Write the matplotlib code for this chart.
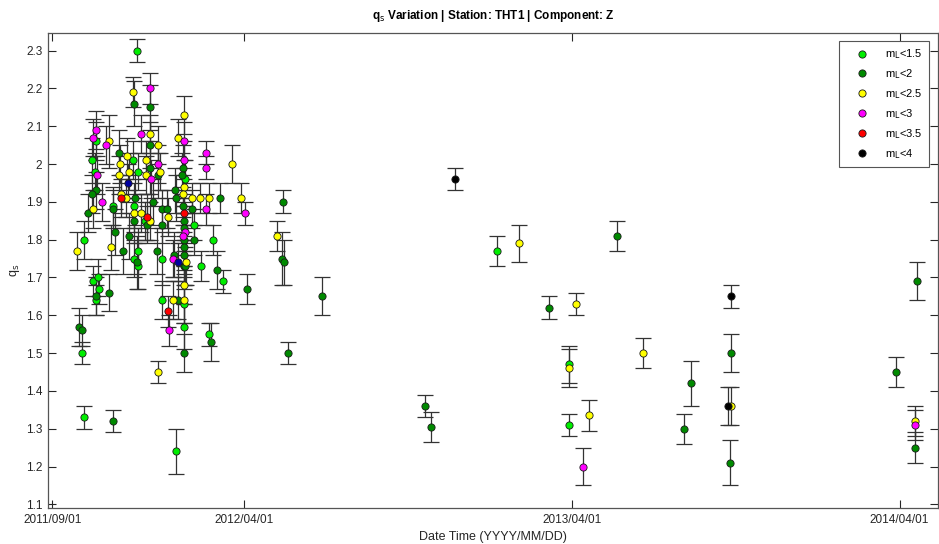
import numpy as np
import matplotlib
matplotlib.use("Agg")
import matplotlib.pyplot as plt
import matplotlib.dates as mdates
from matplotlib.lines import Line2D
from matplotlib.ticker import FuncFormatter

plt.rcParams["font.family"] = ["Liberation Sans", "DejaVu Sans"]

# Event dates are stored as day offsets from the start of the record
START = np.datetime64("2011-09-01")

# m_L < 1.5
ml15_day = [94, 44, 90, 49, 95, 47, 147, 67, 91, 103, 158, 35, 179, 95, 122, 91, 95,
            165, 190, 45, 51, 52, 49, 122, 146, 146, 174, 33, 35, 137, 495, 575, 575]
ml15_q = [2.30, 2.01, 2.01, 2.06, 1.98, 1.98, 1.96, 1.89, 1.89, 1.85, 1.84, 1.80, 1.80,
          1.77, 1.75, 1.75, 1.73, 1.73, 1.69, 1.69, 1.70, 1.67, 1.64, 1.64, 1.63, 1.57,
          1.55, 1.50, 1.33, 1.24, 1.77, 1.47, 1.31]
ml15_err = [0.03, 0.06, 0.05, 0.05, 0.05, 0.05, 0.05, 0.05, 0.06, 0.05, 0.04, 0.05, 0.04,
            0.06, 0.07, 0.05, 0.06, 0.04, 0.03, 0.04, 0.05, 0.04, 0.04, 0.05, 0.05, 0.06,
            0.03, 0.03, 0.03, 0.06, 0.04, 0.05, 0.03]

# m_L < 2
ml2_day = [91, 109, 109, 74, 109, 145, 118, 144, 48, 44, 136, 137, 92, 187, 112, 67, 39,
           122, 128, 145, 155, 105, 122, 91, 146, 146, 146, 146, 146, 146, 70, 85, 79, 116,
           94, 158, 183, 217, 135, 147, 49, 63, 140, 146, 176, 30, 33, 67, 257, 255, 258,
           262, 300, 415, 421, 553, 628, 711, 703, 755, 754, 939, 963, 960]
ml2_q = [2.16, 2.15, 2.05, 2.03, 1.99, 1.99, 1.97, 1.97, 1.93, 1.92, 1.93, 1.91, 1.91, 1.91,
         1.90, 1.88, 1.87, 1.88, 1.88, 1.89, 1.88, 1.84, 1.84, 1.85, 1.85, 1.83, 1.80, 1.78,
         1.76, 1.73, 1.82, 1.81, 1.77, 1.77, 1.74, 1.80, 1.72, 1.67, 1.76, 1.73, 1.65, 1.66,
         1.64, 1.50, 1.53, 1.57, 1.56, 1.32, 1.90, 1.75, 1.74, 1.50, 1.65, 1.36, 1.305, 1.62,
         1.81, 1.42, 1.30, 1.50, 1.21, 1.45, 1.69, 1.25]
ml2_err = [0.06, 0.06, 0.06, 0.06, 0.07, 0.06, 0.06, 0.06, 0.05, 0.05, 0.06, 0.06, 0.07, 0.04,
           0.06, 0.05, 0.05, 0.05, 0.05, 0.05, 0.05, 0.05, 0.05, 0.06, 0.05, 0.06, 0.07, 0.06,
           0.05, 0.06, 0.06, 0.06, 0.06, 0.06, 0.07, 0.04, 0.05, 0.04, 0.06, 0.05, 0.05, 0.05,
           0.05, 0.05, 0.05, 0.05, 0.04, 0.03, 0.03, 0.07, 0.06, 0.03, 0.05, 0.03, 0.04, 0.03,
           0.04, 0.06, 0.04, 0.05, 0.06, 0.04, 0.05, 0.04]

# m_L < 2.5
ml25_day = [90, 146, 63, 109, 140, 118, 83, 104, 75, 200, 85, 120, 74, 104, 146, 145, 76, 82,
            155, 164, 174, 210, 45, 91, 98, 129, 109, 27, 65, 149, 146, 134, 146, 118, 250,
            519, 583, 575, 597, 657, 755, 960]
ml25_q = [2.19, 2.13, 2.06, 2.08, 2.07, 2.05, 2.02, 2.01, 2.00, 2.00, 1.98, 1.98, 1.97, 1.97,
          1.94, 1.92, 1.92, 1.91, 1.91, 1.91, 1.91, 1.91, 1.88, 1.87, 1.87, 1.86, 1.85, 1.77,
          1.78, 1.74, 1.68, 1.64, 1.64, 1.45, 1.81, 1.79, 1.63, 1.46, 1.335, 1.50, 1.36, 1.32]
ml25_err = [0.04, 0.05, 0.07, 0.05, 0.05, 0.05, 0.05, 0.05, 0.05, 0.05, 0.05, 0.05, 0.05, 0.05,
            0.05, 0.05, 0.05, 0.05, 0.04, 0.04, 0.04, 0.04, 0.05, 0.05, 0.05, 0.05, 0.05, 0.05,
            0.06, 0.06, 0.05, 0.05, 0.06, 0.03, 0.04, 0.05, 0.03, 0.05, 0.04, 0.04, 0.05, 0.04]

# m_L < 3
ml3_day = [109, 49, 45, 60, 99, 146, 146, 171, 171, 118, 50, 110, 55, 171, 214, 148, 145, 134,
           130, 591, 960]
ml3_q = [2.20, 2.09, 2.07, 2.05, 2.08, 2.06, 2.01, 2.03, 1.99, 2.00, 1.97, 1.96, 1.90, 1.88,
         1.87, 1.82, 1.81, 1.75, 1.56, 1.20, 1.31]
ml3_err = [0.04, 0.05, 0.05, 0.05, 0.05, 0.05, 0.05, 0.03, 0.03, 0.05, 0.05, 0.05, 0.05, 0.04,
           0.03, 0.05, 0.05, 0.05, 0.04, 0.05, 0.04]

# m_L < 3.5
ml35_day = [76, 146, 105, 129]
ml35_q = [1.91, 1.87, 1.86, 1.61]
ml35_err = [0.05, 0.05, 0.06, 0.04]

# m_L < 4
ml4_day = [448, 755, 752]
ml4_q = [1.96, 1.65, 1.36]
ml4_err = [0.03, 0.03, 0.05]

# events without a magnitude class in the key
other_day = [84, 140]
other_q = [1.95, 1.74]
other_err = [0.05, 0.05]

series = [
    (ml15_day, ml15_q, ml15_err, "#00ee00", r"m$_{\rm L}$<1.5"),
    (ml2_day, ml2_q, ml2_err, "#008a00", r"m$_{\rm L}$<2"),
    (ml25_day, ml25_q, ml25_err, "#ffff00", r"m$_{\rm L}$<2.5"),
    (ml3_day, ml3_q, ml3_err, "#ff00ff", r"m$_{\rm L}$<3"),
    (ml35_day, ml35_q, ml35_err, "#ff0000", r"m$_{\rm L}$<3.5"),
    (ml4_day, ml4_q, ml4_err, "#000000", r"m$_{\rm L}$<4"),
    (other_day, other_q, other_err, "#0000a0", None),
]

xtick_dates = ["2011-09-01", "2012-04-01", "2013-04-01", "2014-04-01"]
ytick_vals = [1.1, 1.2, 1.3, 1.4, 1.5, 1.6, 1.7, 1.8, 1.9, 2.0, 2.1, 2.2, 2.3]

fig = plt.figure(figsize=(9.39, 5.44), dpi=100)
ax = fig.add_axes([0.0511, 0.066, 0.948, 0.873])

axis_col = "#262626"
handles = []
for day, q, err, col, lab in series:
    t = START + np.array(day).astype("timedelta64[D]")
    ax.errorbar(t, q, yerr=err, fmt="none", ecolor="#333333", elinewidth=0.9,
                capsize=6, capthick=0.9, zorder=2)
    ax.plot(t, q, linestyle="none", marker="o", markersize=5.2,
            markerfacecolor=col, markeredgecolor="#1a1a1a", markeredgewidth=0.6, zorder=3)
    if lab is not None:
        handles.append(Line2D([], [], linestyle="none", marker="o", markersize=5.2,
                              markerfacecolor=col, markeredgecolor="#1a1a1a",
                              markeredgewidth=0.6, label=lab))

ax.set_xlim(np.datetime64("2011-08-27"), np.datetime64("2014-05-14"))
ax.set_ylim(1.09, 2.346)
ax.set_xticks([np.datetime64(d) for d in xtick_dates])
ax.xaxis.set_major_formatter(mdates.DateFormatter("%Y/%m/%d"))
ax.set_yticks(ytick_vals)
ax.yaxis.set_major_formatter(FuncFormatter(lambda v, p: f"{v:g}"))

ax.tick_params(direction="in", length=6, width=0.8, colors=axis_col, labelsize=8.5,
               top=True, right=True, pad=4)
for s in ax.spines.values():
    s.set_color("#555555")
    s.set_linewidth(0.9)

ax.set_xlabel("Date Time (YYYY/MM/DD)", fontsize=9, color=axis_col, labelpad=4)
ax.set_ylabel(r"q$_{\rm s}$", fontsize=9, color=axis_col, labelpad=3)
ax.set_title(r"q$_{\rm s}$ Variation | Station: THT1 | Component: Z", fontsize=8.5,
             fontweight="bold", color="#000000", pad=10)

leg = ax.legend(handles=handles, loc="upper right", bbox_to_anchor=(0.989, 0.925),
                bbox_transform=fig.transFigure, borderaxespad=0, fontsize=8,
                frameon=True, fancybox=False, edgecolor="#555555", framealpha=1,
                handlelength=3.0, handletextpad=0.5, labelspacing=0.55,
                borderpad=0.6)
leg.get_frame().set_linewidth(0.8)

fig.savefig("out.png", dpi=100)
